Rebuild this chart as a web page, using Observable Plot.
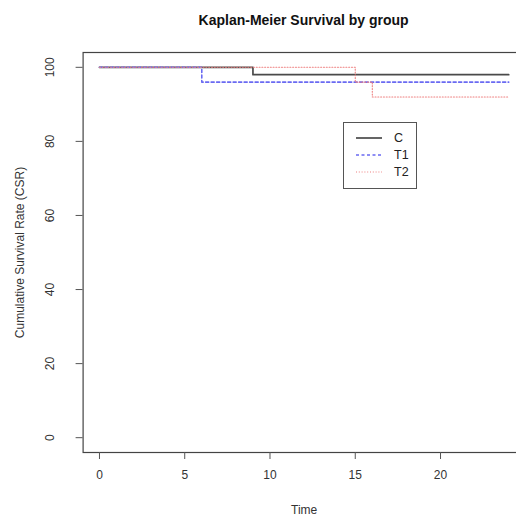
<!DOCTYPE html>
<html>
<head>
<meta charset="utf-8">
<script src="https://cdn.jsdelivr.net/npm/d3@7"></script>
<script src="https://cdn.jsdelivr.net/npm/@observablehq/plot@0.6"></script>
<style>
  html, body { margin: 0; padding: 0; background: #fff; overflow: hidden; }
  #wrap { position: relative; width: 516px; height: 518px; overflow: hidden; font-family: "Liberation Sans", Arial, sans-serif; }
  #title { height: 40px; width: 442px; margin-left: 82.6px; text-align: center; font-weight: bold; font-size: 14px; line-height: 40px; color: #111; }
  #chart svg { display: block; overflow: visible; }
  #legend { position: absolute; left: 343px; top: 122px; width: 72px; height: 65px; border: 1.3px solid #555; background: #fff; }
  .lrow { position: absolute; left: 0; height: 16px; width: 72px; }
  .lrow svg { position: absolute; left: 12px; top: 0; }
  .lrow span { position: absolute; left: 50px; top: 0; font-size: 12.5px; line-height: 16px; color: #222; }
</style>
</head>
<body>
<div id="wrap">
  <div id="title"></div>
  <div id="chart"></div>
  <div id="legend"></div>
</div>
<script>
// ---- data ----
const titleText = "Kaplan-Meier Survival by group";
const xLabel = "Time";
const yLabel = "Cumulative Survival Rate (CSR)";
const groups = ["C", "T1", "T2"];
const timesC = [0, 9, 24];
const csrC = [100, 98, 98];
const timesT1 = [0, 6, 24];
const csrT1 = [100, 96, 96];
const timesT2 = [0, 15, 16, 24];
const csrT2 = [100, 96, 92, 92];
const xTicks = [0, 5, 10, 15, 20];
const yTicks = [0, 20, 40, 60, 80, 100];

// ---- styles ----
const styles = {
  C:  {stroke: "#4a4a4a", strokeWidth: 1.7, dash: null},
  T1: {stroke: "#6a6af2", strokeWidth: 1.6, dash: "3,2.5"},
  T2: {stroke: "#ee8080", strokeWidth: 1.1, dash: "1,1.8"}
};

const series = {
  C: timesC.map((t, i) => ({group: "C", time: t, csr: csrC[i]})),
  T1: timesT1.map((t, i) => ({group: "T1", time: t, csr: csrT1[i]})),
  T2: timesT2.map((t, i) => ({group: "T2", time: t, csr: csrT2[i]}))
};

document.getElementById("title").textContent = titleText;

const lineMarks = groups.map(g => Plot.line(series[g], {
  x: "time", y: "csr", curve: "step-after",
  stroke: styles[g].stroke, strokeWidth: styles[g].strokeWidth,
  strokeDasharray: styles[g].dash || undefined
}));

const chart = Plot.plot({
  width: 516,
  height: 478,
  marginTop: 12,
  marginBottom: 66,
  marginLeft: 82.6,
  marginRight: -8.6,
  style: {fontFamily: "Liberation Sans, Arial, sans-serif", fontSize: "12px", color: "#333", background: "#fff"},
  x: {domain: [-0.96, 24.96]},
  y: {domain: [-4, 104]},
  marks: [
    Plot.frame({stroke: "#444", strokeWidth: 1.2}),
    Plot.axisX({ticks: xTicks, tickSize: 7, tickPadding: 11, tickFormat: d => String(d),
      label: xLabel, labelAnchor: "center", labelOffset: 61, labelArrow: "none", fontSize: 12, stroke: "#555"}),
    Plot.axisY({ticks: yTicks, tickSize: 7, tickPadding: 22, tickRotate: -90, tickFormat: d => String(d),
      label: yLabel, labelAnchor: "center", labelOffset: 68, labelArrow: "none", fontSize: 12, stroke: "#555"}),
    ...lineMarks
  ]
});
document.getElementById("chart").appendChild(chart);

// ---- legend ----
const legend = document.getElementById("legend");
groups.forEach((g, i) => {
  const row = document.createElement("div");
  row.className = "lrow";
  row.style.top = (6.5 + i * 17.3) + "px";
  const s = styles[g];
  row.innerHTML = `<svg width="26" height="16"><line x1="0" x2="26" y1="8" y2="8" stroke="${s.stroke}" stroke-width="${s.strokeWidth}" ${s.dash ? `stroke-dasharray="${s.dash}"` : ""}/></svg><span>${g}</span>`;
  legend.appendChild(row);
});
</script>
</body>
</html>
